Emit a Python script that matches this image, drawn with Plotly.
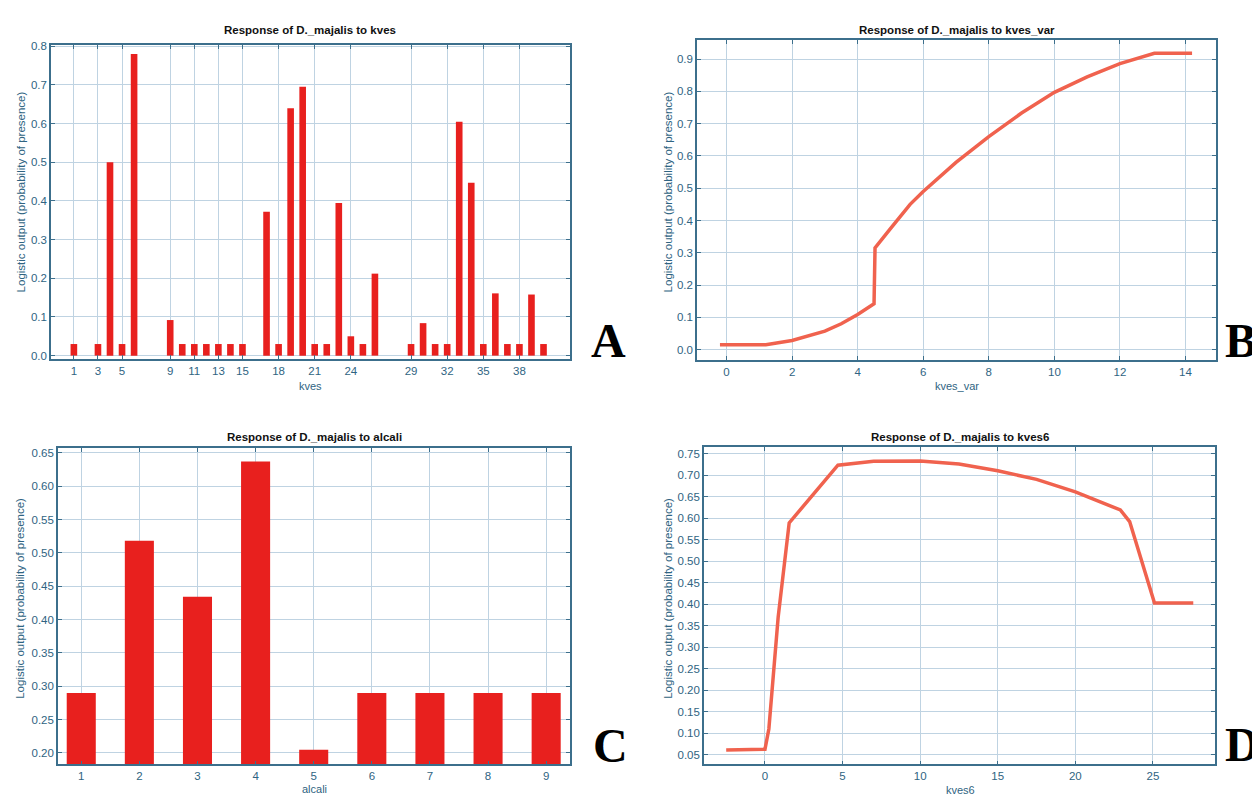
"""Response curves of D._majalis to four predictors (2x2 panel figure)."""

import plotly.graph_objects as go

# Panel A: kves (categorical classes shown as bars)
kves_x = [1, 3, 4, 5, 6, 9, 10, 11, 12, 13, 14, 15, 17, 18, 19, 20, 21, 22, 23, 24,
          25, 26, 29, 30, 31, 32, 33, 34, 35, 36, 37, 38, 39, 40]
kves_y = [0.03, 0.03, 0.50, 0.03, 0.78, 0.092, 0.03, 0.03, 0.03, 0.03, 0.03, 0.03,
          0.372, 0.03, 0.64, 0.695, 0.03, 0.03, 0.395, 0.05, 0.03, 0.212, 0.03, 0.084,
          0.03, 0.03, 0.605, 0.447, 0.03, 0.161, 0.03, 0.03, 0.158, 0.03]
kves_ticks = [1, 3, 5, 9, 11, 13, 15, 18, 21, 24, 29, 32, 35, 38]

# Panel B: kves_var (continuous)
kves_var_x = [-0.2, 1.2, 2.0, 3.0, 3.5, 4.0, 4.5, 4.53, 5.0, 5.6, 6.0, 7.0, 8.0, 9.0,
              10.0, 11.0, 12.0, 13.05, 14.2]
kves_var_y = [0.015, 0.015, 0.028, 0.057, 0.08, 0.109, 0.142, 0.315, 0.375, 0.45, 0.49,
              0.58, 0.66, 0.733, 0.797, 0.845, 0.886, 0.918, 0.918]

# Panel C: alcali (categorical)
alcali_x = [1, 2, 3, 4, 5, 6, 7, 8, 9]
alcali_y = [0.29, 0.518, 0.434, 0.637, 0.205, 0.29, 0.29, 0.29, 0.29]

# Panel D: kves6 (continuous)
kves6_x = [-2.5, 0.0, 0.25, 0.85, 1.56, 2.6, 4.7, 7.0, 10.0, 12.5, 15.0, 17.5, 20.0,
           22.9, 23.5, 25.1, 27.6]
kves6_y = [0.061, 0.063, 0.11, 0.37, 0.589, 0.634, 0.723, 0.732, 0.733, 0.726, 0.71,
           0.69, 0.661, 0.619, 0.592, 0.403, 0.403]

W, H = 1260, 794
BAR_RED = "#e8201e"
LINE_RED = "#f0624e"
FRAME = "#3c6f8c"
TICK_TEXT = "#2f6482"
GRID = "#bfd3e2"
Y_TITLE = "Logistic output (probability of presence)"


def px_x(v):
    return v / W


def px_y(v):
    return 1 - v / H


def label(fig, text, x, y, **kw):
    # free text placed at a pixel position, centred on it
    fig.add_annotation(text=text, x=px_x(x), y=px_y(y), xref="paper", yref="paper",
                       xanchor="center", yanchor="middle", showarrow=False, **kw)


fig = go.Figure()

fig.add_trace(go.Bar(x=kves_x, y=kves_y, width=0.55, marker=dict(color=BAR_RED, line_width=0),
                     xaxis="x", yaxis="y"))
fig.add_trace(go.Scatter(x=kves_var_x, y=kves_var_y, mode="lines",
                         line=dict(color=LINE_RED, width=3.5), xaxis="x2", yaxis="y2"))
fig.add_trace(go.Bar(x=alcali_x, y=alcali_y, width=0.5, marker=dict(color=BAR_RED, line_width=0),
                     base=0, xaxis="x3", yaxis="y3"))
fig.add_trace(go.Scatter(x=kves6_x, y=kves6_y, mode="lines",
                         line=dict(color=LINE_RED, width=3.5), xaxis="x4", yaxis="y4"))

common = dict(
    showline=True, linecolor=FRAME, linewidth=1.6, mirror="ticks",
    ticks="inside", ticklen=4, tickcolor=FRAME,
    showgrid=True, gridcolor=GRID, gridwidth=1, zeroline=False,
    tickfont=dict(family="Liberation Sans, Arial", size=11.5, color=TICK_TEXT),
)

# pixel boxes: (left, right, top, bottom)
boxes = {
    "1": (43, 562, 33, 350),
    "2": (689, 1208, 28, 351),
    "3": (50, 562, 440, 759),
    "4": (696, 1207, 439, 759),
}

layout = dict(
    width=W, height=H, margin=dict(l=0, r=0, t=0, b=0),
    paper_bgcolor="white", plot_bgcolor="white", showlegend=False,
    font=dict(family="Liberation Sans, Arial", color="black"),
)

x_specs = {
    "1": dict(range=[-0.9, 42.2], tickmode="array", tickvals=kves_ticks),
    "2": dict(range=[-0.9, 14.93], dtick=2, tick0=0),
    "3": dict(range=[0.6, 9.41], dtick=1, tick0=1),
    "4": dict(range=[-3.93, 29.0], dtick=5, tick0=0),
}
y_specs = {
    "1": dict(range=[-0.0085, 0.804], dtick=0.1, tick0=0, tickformat=".1f"),
    "2": dict(range=[-0.032, 0.96], dtick=0.1, tick0=0, tickformat=".1f"),
    "3": dict(range=[0.183, 0.657], dtick=0.05, tick0=0, tickformat=".2f"),
    "4": dict(range=[0.028, 0.765], dtick=0.05, tick0=0, tickformat=".2f"),
}

for k, (l, r, t, b) in boxes.items():
    suffix = "" if k == "1" else k
    layout["xaxis" + suffix] = dict(
        common, domain=[px_x(l), px_x(r)], anchor="y" + suffix, **x_specs[k],
    )
    layout["yaxis" + suffix] = dict(
        common, domain=[px_y(b), px_y(t)], anchor="x" + suffix, **y_specs[k],
    )

fig.update_layout(**layout)

titles = [
    ("Response of D._majalis to kves", 302, 18),
    ("Response of D._majalis to kves_var", 949, 18),
    ("Response of D._majalis to alcali", 306, 429),
    ("Response of D._majalis to kves6", 952, 429),
]
for text, x, y in titles:
    label(fig, f"<b>{text}</b>", x, y, font=dict(size=11.5, color="#111111"))

# x-axis titles
for text, x, y in [("kves", 302, 377), ("kves_var", 949, 377), ("alcali", 306, 784),
                   ("kves6", 952, 785)]:
    label(fig, text, x, y, font=dict(size=11, color=TICK_TEXT))

# rotated y-axis titles
for x, y in [(13, 182), (660, 182), (12, 592), (660, 592)]:
    label(fig, Y_TITLE, x, y, textangle=-90, font=dict(size=11.5, color=TICK_TEXT))

# panel letters
for letter, x, y in [("A", 600, 331), ("B", 1233, 331), ("C", 602, 740), ("D", 1234, 739)]:
    label(fig, f"<b>{letter}</b>", x, y,
          font=dict(family="Liberation Serif, Times New Roman", size=48, color="black"))

fig.write_html("out.html")
